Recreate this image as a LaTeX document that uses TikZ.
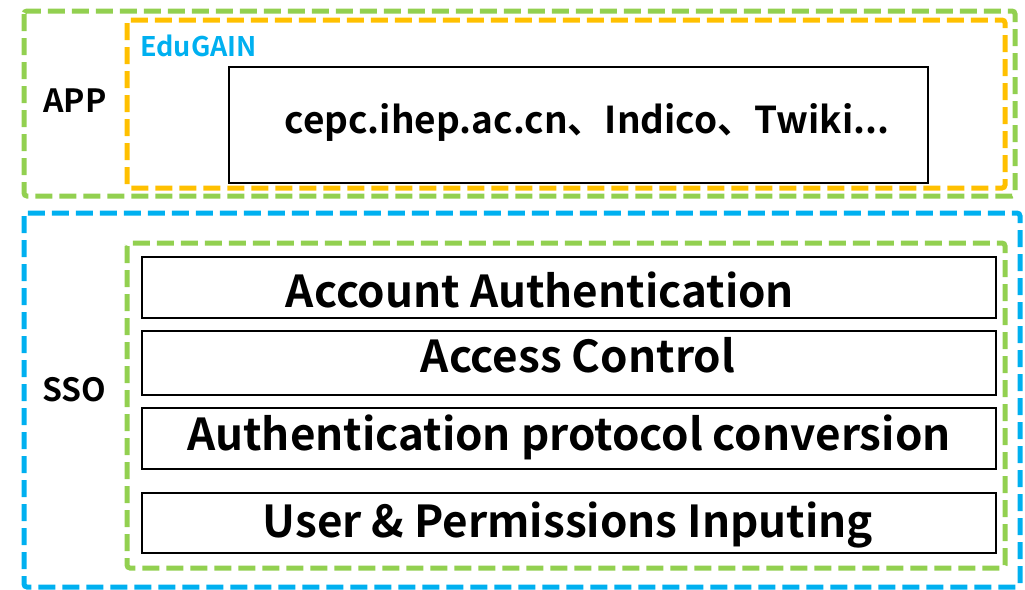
\documentclass[tikz,border=0pt]{standalone}
\usepackage{fontspec}
\setmainfont{Noto Sans CJK SC}[BoldFont={Noto Sans CJK SC Bold}]
\begin{document}
\begin{tikzpicture}[x=1pt,y=-1pt,
  frame/.style={line width=5pt, dash pattern=on 17pt off 7pt, rounded corners=3pt},
  layer/.style={draw=black, line width=2.5pt},
  big/.style={font=\fontsize{44}{48}\selectfont\bfseries, anchor=base, inner sep=0pt},
  side/.style={font=\fontsize{32}{36}\selectfont\bfseries, anchor=base, inner sep=0pt}]
\definecolor{cgreen}{RGB}{146,208,80}
\definecolor{corange}{RGB}{255,192,0}
\definecolor{cblue}{RGB}{0,176,240}
\useasboundingbox (0,0) rectangle (1025,589);
% frames
\draw[frame, cgreen] (24,11) rectangle (1015,196);
\draw[frame, corange] (127,20) rectangle (1005,188);
\draw[frame, cblue] (24,213) rectangle (1020,587);
\draw[frame, cgreen] (127,243) rectangle (1005,568);
% boxes
\draw[layer] (229,67) rectangle (928,183);
\draw[layer] (142,257) rectangle (996,318);
\draw[layer] (142,331) rectangle (996,395);
\draw[layer] (142,408) rectangle (996,469);
\draw[layer] (142,493) rectangle (996,553);
% texts
\node[side] (app) at (75,112) {APP};
\node[side] (sso) at (74,401) {SSO};
\node[font=\fontsize{27}{30}\selectfont\bfseries, text=cblue, anchor=base west, inner sep=0pt] (edu) at (140,56) {EduGAIN};
\node[font=\fontsize{37}{40}\selectfont\bfseries, anchor=base, inner sep=0pt] (t0) at (587,133) {cepc.ihep.ac.cn、Indico、Twiki...};
\node[big] (t1) at (540,307) {Account Authentication};
\node[big] (t2) at (578,372) {Access Control};
\node[big] (t3) at (569,450) {Authentication protocol conversion};
\node[big] (t4) at (568,537) {User \& Permissions Inputing};
\end{tikzpicture}
\end{document}
